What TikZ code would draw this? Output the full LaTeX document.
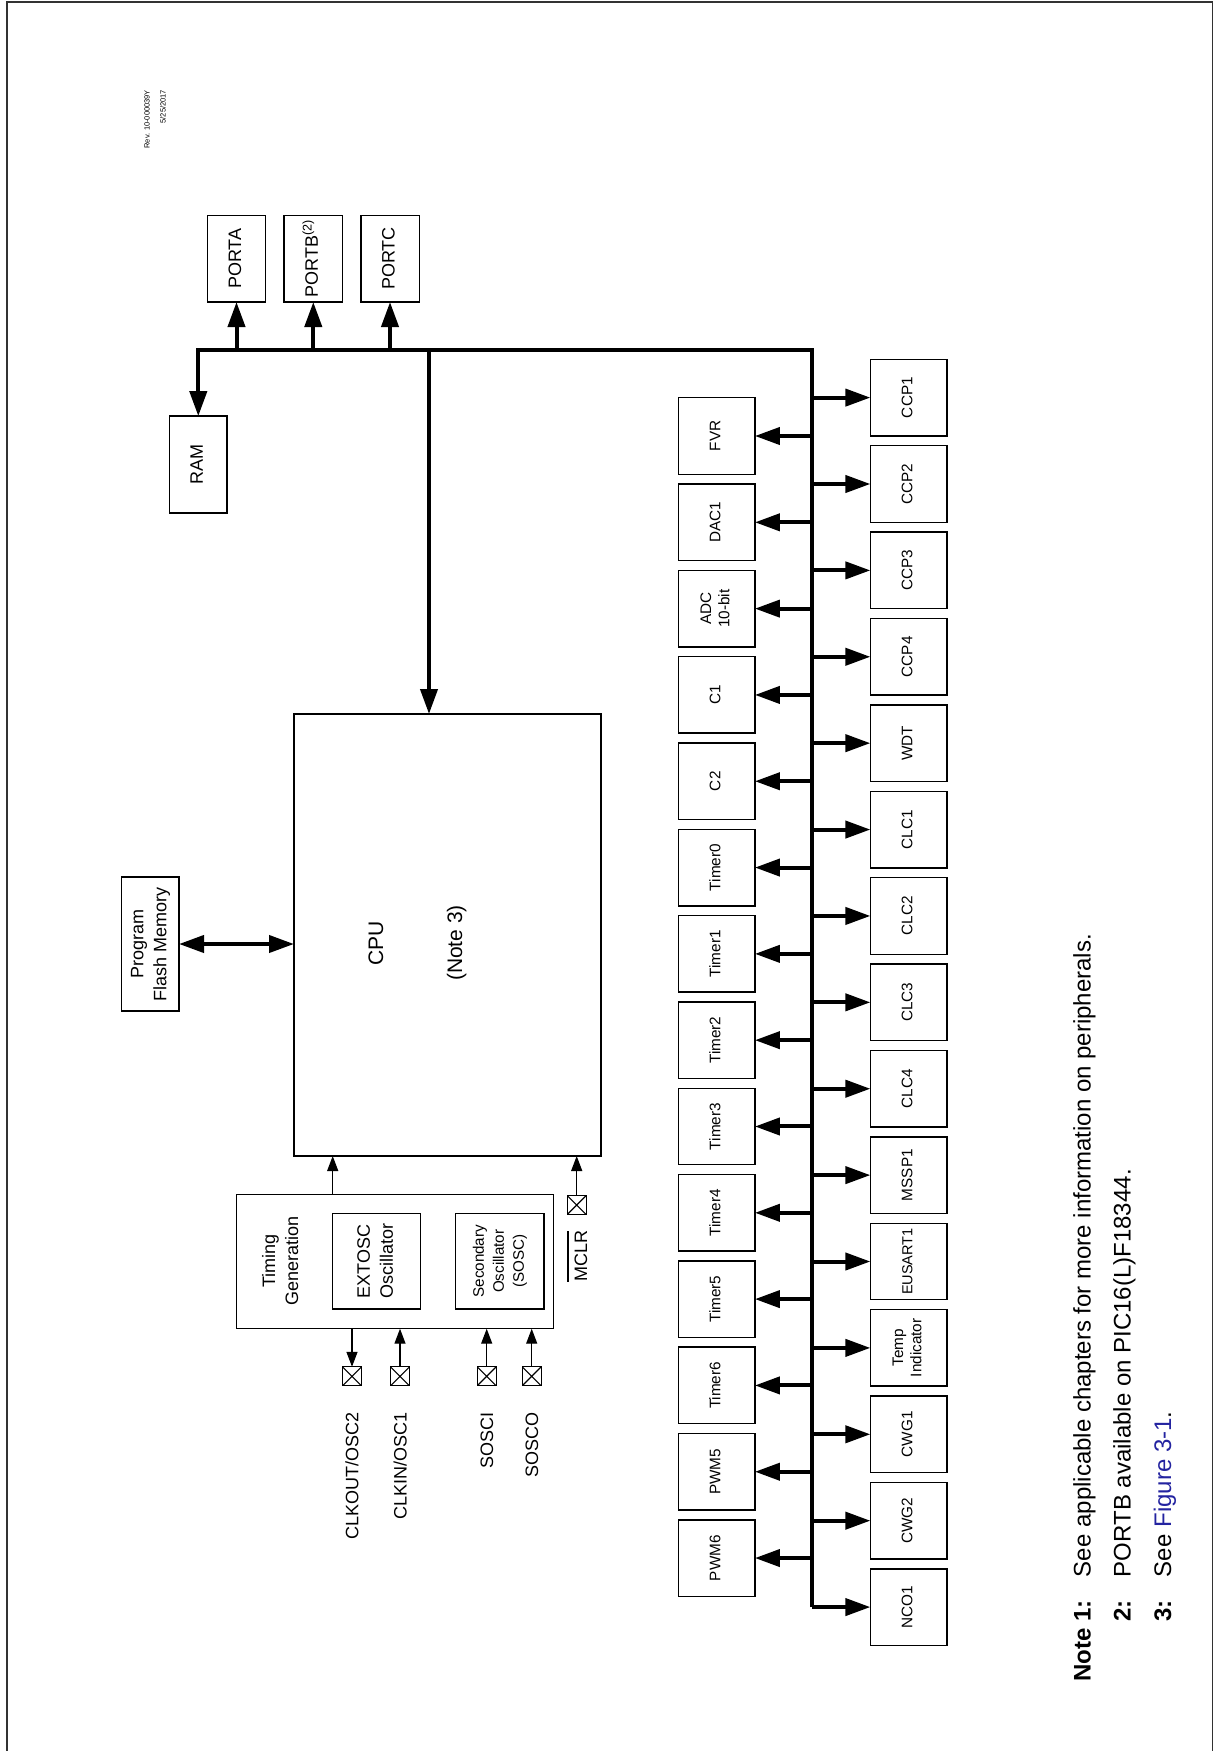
\documentclass[tikz,border=0pt]{standalone}
\usepackage{fontspec}
\setmainfont{Liberation Sans}
\usetikzlibrary{arrows.meta,calc}
\definecolor{linkblue}{RGB}{35,35,160}
\definecolor{framegray}{RGB}{50,50,50}
\newcommand{\rlab}[1]{\rotatebox{90}{\begin{tabular}{@{}c@{}}#1\end{tabular}}}
\begin{document}
\begin{tikzpicture}[x=1pt,y=-1pt,
 blk/.style={draw, line width=1.4pt, inner sep=0pt, outer sep=0pt},
 per/.style={blk, minimum width=76.5pt, minimum height=76.5pt, font=\fontsize{15.3}{18.3}\selectfont},
 busline/.style={line width=4pt, line join=miter},
 busarrow/.style={line width=4pt, -{Triangle[length=25pt,width=17pt]}},
 dbarrow/.style={line width=4pt, {Triangle[length=25pt,width=17pt]}-{Triangle[length=25pt,width=17pt]}},
 thinarrow/.style={line width=1.3pt, -{Triangle[length=15pt,width=11pt]}},
 pinbox/.style={draw, line width=1.3pt, minimum size=19pt, inner sep=0pt, outer sep=0pt,
   path picture={\draw[line width=1.1pt] (path picture bounding box.north west) -- (path picture bounding box.south east)
     (path picture bounding box.south west) -- (path picture bounding box.north east);}},
 rtext/.style={rotate=90, inner sep=0pt, outer sep=0pt},
 bigfont/.style={font=\fontsize{18}{23}\selectfont}]
\useasboundingbox (0,0) rectangle (1215,1751);
% frame
\draw[line width=1.5pt, framegray] (7,1751) -- (7,2) -- (1212.7,2) -- (1212.7,1751);
% revision
\node[rtext, anchor=east, align=right, font=\fontsize{7.5}{16}\selectfont] (rev) at (155,90) {Rev. 10-000039Y\\5/25/2017};
% ports and RAM
\node[blk, bigfont, minimum width=58.4pt, minimum height=86.7pt] (porta) at (236.5,258.65) {\rlab{PORTA}};
\node[blk, bigfont, minimum width=58.4pt, minimum height=86.7pt] (portb) at (313.3,258.65) {\rlab{PORTB\textsuperscript{(2)}}};
\node[blk, bigfont, minimum width=58.4pt, minimum height=86.7pt] (portc) at (390,258.65) {\rlab{PORTC}};
\node[blk, bigfont, minimum width=57.7pt, minimum height=96.7pt] (ram) at (198.3,464.5) {\rlab{RAM}};
% flash and CPU
\node[blk, bigfont, minimum width=57.3pt, minimum height=134pt] (flash) at (150.35,944) {\rlab{Program\\Flash Memory}};
\node[blk, minimum width=307pt, minimum height=442pt] (cpu) at (447.5,935) {};
\node[rtext, anchor=base, font=\fontsize{21}{25}\selectfont] (cpulbl) at (383,943) {CPU};
\node[rtext, anchor=base, font=\fontsize{21}{25}\selectfont] (cpunote) at (462,943) {(Note 3)};
% timing generation
\node[blk, minimum width=316.6pt, minimum height=134.4pt] (timing) at (395,1261.5) {};
\node[bigfont, inner sep=0pt] (timinglbl) at (282,1261) {\rlab{Timing\\Generation}};
\node[blk, bigfont, minimum width=88pt, minimum height=95.7pt] (extosc) at (376.7,1261.2) {\rlab{EXTOSC\\Oscillator}};
\node[blk, font=\fontsize{15.2}{20}\selectfont, minimum width=88.3pt, minimum height=95.7pt] (sosc) at (499.85,1261.2) {\rlab{Secondary\\Oscillator\\(SOSC)}};
% pins
\node[pinbox] (clkoutpin) at (352,1376.3) {};
\node[pinbox] (clkinpin) at (400,1376.3) {};
\node[pinbox] (sosci) at (486.7,1376.3) {};
\node[pinbox] (sosco) at (531.7,1376.3) {};
\node[pinbox] (mclrpin) at (576.7,1205) {};
\node[rtext, bigfont, anchor=base east] (clkoutlbl) at (358.4,1412) {CLKOUT/OSC2};
\node[rtext, bigfont, anchor=base east] (clkinlbl) at (406.6,1412) {CLKIN/OSC1};
\node[rtext, bigfont, anchor=base east] (soscilbl) at (493.2,1412) {SOSCI};
\node[rtext, bigfont, anchor=base east] (soscolbl) at (538.2,1412) {SOSCO};
\node[rtext, bigfont, anchor=base] (mclrlbl) at (587.2,1256) {\vbox{\hrule height 1.3pt\kern 6pt\hbox{MCLR}}};
\draw[thinarrow] (clkoutpin.north |- timing.south) -- (clkoutpin.north);
\draw[thinarrow] (clkinpin.north) -- (clkinpin.north |- timing.south);
\draw[thinarrow] (sosci.north) -- (sosci.north |- timing.south);
\draw[thinarrow] (sosco.north) -- (sosco.north |- timing.south);
\draw[thinarrow] (mclrpin.north) -- (mclrpin.north |- cpu.south);
\draw[thinarrow] (extosc.west |- timing.north) -- (extosc.west |- cpu.south);
\draw[dbarrow] (flash.east) -- (cpu.west |- flash.east);
% peripherals left
\foreach \nm/\lbl [count=\i from 0] in {fvr/FVR, dac/DAC1, adc/{ADC\\10-bit}, cmpa/C1, cmpb/C2,
  tmra/Timer0, tmrb/Timer1, tmrc/Timer2, tmrd/Timer3, tmre/Timer4, tmrf/Timer5, tmrg/Timer6,
  pwma/PWM5, pwmb/PWM6}
  \node[per] (\nm) at (716.65,{436+\i*86.31}) {\rlab{\lbl}};
% peripherals right
\foreach \nm/\lbl [count=\i from 0] in {ccpa/CCP1, ccpb/CCP2, ccpc/CCP3, ccpd/CCP4, wdt/WDT,
  clca/CLC1, clcb/CLC2, clcc/CLC3, clcd/CLC4, mssp/MSSP1, eusart/{\fontsize{14.5}{17}\selectfont EUSART1},
  temp/{Temp\\Indicator}, cwga/CWG1, cwgb/CWG2, nco/NCO1}
  \node[per] (\nm) at (908.65,{397.6+\i*86.39}) {\rlab{\lbl}};
% bus
\coordinate (btl) at (198.3,350);
\coordinate (btr) at (812.3,350);
\coordinate (ctap) at (429,350);
\draw[busline, -{Triangle[length=25pt,width=17pt]}] (btr |- nco.west) -- (btr) -- (btl) -- (btl |- ram.north);
\foreach \p in {porta,portb,portc}
  \draw[busarrow] (\p.south |- btl) -- (\p.south);
\draw[busarrow] (ctap) -- (ctap |- cpu.north);
\foreach \nm in {fvr,dac,adc,cmpa,cmpb,tmra,tmrb,tmrc,tmrd,tmre,tmrf,tmrg,pwma,pwmb}
  \draw[busarrow] (\nm.east -| btr) -- (\nm.east);
\foreach \nm in {ccpa,ccpb,ccpc,ccpd,wdt,clca,clcb,clcc,clcd,mssp,eusart,temp,cwga,cwgb,nco}
  \draw[busarrow] (\nm.west -| btr) -- (\nm.west);
% notes
\node[rtext, anchor=base east, font=\fontsize{24}{28}\selectfont\bfseries] (n1l) at (1090.7,1600) {Note 1:};
\node[rtext, anchor=base west, font=\fontsize{24}{28}\selectfont] (n1t) at (1090.7,1577) {See applicable chapters for more information on peripherals.};
\node[rtext, anchor=base east, font=\fontsize{24}{28}\selectfont\bfseries] (n2l) at (1130.5,1600) {2:};
\node[rtext, anchor=base west, font=\fontsize{24}{28}\selectfont] (n2t) at (1130.5,1577) {PORTB available on PIC16(L)F18344.};
\node[rtext, anchor=base east, font=\fontsize{24}{28}\selectfont\bfseries] (n3l) at (1171,1600) {3:};
\node[rtext, anchor=base west, font=\fontsize{24}{28}\selectfont] (n3t) at (1171,1577) {See \textcolor{linkblue}{Figure 3-1}.};
\end{tikzpicture}
\end{document}
